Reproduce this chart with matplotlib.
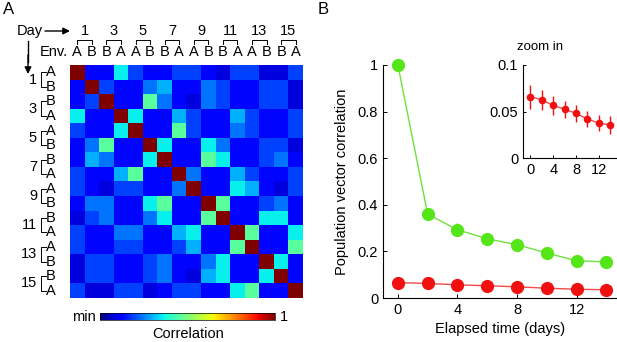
import numpy as np
import matplotlib.pyplot as plt
from matplotlib import cm, colors

plt.rcParams['font.family'] = ['Liberation Sans', 'DejaVu Sans']

W, H = 617, 342

# ---- panel A data ----
day_labels = [1, 3, 5, 7, 9, 11, 13, 15]
env_labels = ['A', 'B', 'B', 'A', 'A', 'B', 'B', 'A',
              'A', 'B', 'B', 'A', 'A', 'B', 'B', 'A']

# correlation levels (jet scale, min .. 1)
level = {'d': 0.085, 'b': 0.13, 'm': 0.19, 'l': 0.24,
         's': 0.30, 'c': 0.36, 'g': 0.46, 'R': 1.0}
corr_rows = [
    "R b b c m b b m m b d m m d d m",
    "b R m b b l s b b l m b b m m d",
    "b m R b b g l b d l m b b m m d",
    "c b b R c b b s m b b s m b b m",
    "m b b c R b b g m b b l m b b m",
    "b l g b b R c b b c l b b m m d",
    "b s l b b c R b b g c b b m l b",
    "m b b s g b b R l b b s m b b m",
    "m b d m m b b l R b b c s b d m",
    "b l l b b c g b b R g b b m l b",
    "d m l b b l c b b g R b b c c b",
    "m b b l l b b s c b b R g b b c",
    "m b b m m b b m s b b g R b b g",
    "d m m b b m l b b l c b b R c b",
    "d m m b b m l b d s c b b c R b",
    "m d d m m d b m m b b c g b b R",
]

# ---- panel B data ----
elapsed = [0, 2, 4, 6, 8, 10, 12, 14]
same_env = [1.0, 0.36, 0.293, 0.254, 0.229, 0.193, 0.160, 0.155]
same_err = [0.0, 0.015, 0.027, 0.02, 0.015, 0.01, 0.008, 0.02]
diff_env = [0.066, 0.0625, 0.0565, 0.0525, 0.048, 0.042, 0.0375, 0.0355]
diff_err = [0.013, 0.011, 0.010, 0.009, 0.009, 0.009, 0.009, 0.010]

green, green_line = '#55e619', '#70e040'
red, red_line = '#f01010', '#f04a4a'


def fx(px):
    return px / W


def fy(py):
    return 1 - py / H


fig = plt.figure(figsize=(W / 100, H / 100), dpi=100)

# ---------------- panel A ----------------
mat = np.array([[level[c] for c in r.split()] for r in corr_rows])
axA = fig.add_axes([fx(70), fy(298), 233 / W, 233 / H])
axA.imshow(mat, cmap='jet', vmin=0, vmax=1, interpolation='nearest', aspect='auto')
axA.set_xticks([])
axA.set_yticks([])
for s in axA.spines.values():
    s.set_visible(False)

cell = 233 / 16
def dx(px):
    return (px - 70) / cell - 0.5
def dy(py):
    return (py - 65) / cell - 0.5

fs = 10.5
for i, e in enumerate(env_labels):
    axA.text(i, dy(52), e, ha='center', va='center', fontsize=fs, clip_on=False)
    axA.text(dx(51), i, e, ha='center', va='center', fontsize=fs, clip_on=False)

for k, d in enumerate(day_labels):
    a, b = 2 * k, 2 * k + 1
    # top bracket
    axA.plot([a, a, b, b], [dy(44), dy(39.5), dy(39.5), dy(44)], color='k', lw=0.7, clip_on=False)
    axA.text((a + b) / 2, dy(31), str(d), ha='center', va='center', fontsize=fs, clip_on=False)
    # left bracket
    axA.plot([dx(46), dx(41), dx(41), dx(46)], [a, a, b, b], color='k', lw=0.7, clip_on=False)
    axA.text(dx(37), (a + b) / 2, str(d), ha='right', va='center', fontsize=fs, clip_on=False)

axA.set_xlim(-0.5, 15.5)
axA.set_ylim(15.5, -0.5)

fig.text(fx(17), fy(31), 'Day', ha='left', va='center', fontsize=fs)
fig.text(fx(40), fy(52), 'Env.', ha='left', va='center', fontsize=fs)
fig.add_artist(plt.Line2D([fx(28), fx(28)], [fy(41), fy(62)], color='k', lw=1))
axA.annotate('', xy=(fx(70), fy(31)), xytext=(fx(45), fy(31)), xycoords='figure fraction',
             arrowprops=dict(arrowstyle='-|>', color='k', lw=1, mutation_scale=10,
                             shrinkA=0, shrinkB=0))
axA.annotate('', xy=(fx(28), fy(74)), xytext=(fx(28), fy(55)), xycoords='figure fraction',
             arrowprops=dict(arrowstyle='-|>', color='k', lw=1, mutation_scale=10,
                             shrinkA=0, shrinkB=0))

# colorbar
cax = fig.add_axes([fx(100), fy(320), 175 / W, 7 / H])
cb = fig.colorbar(cm.ScalarMappable(norm=colors.Normalize(0, 1), cmap='jet'),
                  cax=cax, orientation='horizontal')
cb.set_ticks([])
cb.outline.set_linewidth(0.5)
fig.text(fx(96), fy(317), 'min', ha='right', va='center', fontsize=fs)
fig.text(fx(280), fy(317), '1', ha='left', va='center', fontsize=fs)
fig.text(fx(188), fy(334), 'Correlation', ha='center', va='center', fontsize=fs)

fig.text(fx(3), fy(9), 'A', ha='left', va='center', fontsize=12)
fig.text(fx(318), fy(9), 'B', ha='left', va='center', fontsize=12)

# ---------------- panel B ----------------
axB = fig.add_axes([fx(383), fy(298), (W - 383) / W, 233 / H])
for yv, ye, lc, mc in [(same_env, same_err, green_line, green),
                       (diff_env, diff_err, red_line, red)]:
    ln, caps, bars = axB.errorbar(elapsed, yv, yerr=ye, color=lc, ecolor=mc, lw=1,
                                  marker='o', ms=8.5, mfc=mc, mec=mc, elinewidth=1,
                                  capsize=0, zorder=3)
    ln.set_clip_on(False)
axB.set_xlim(-1, 14.72)
axB.set_ylim(0, 1)
axB.set_xticks([0, 4, 8, 12])
axB.set_yticks([0, 0.2, 0.4, 0.6, 0.8, 1])
axB.set_yticklabels(['0', '0.2', '0.4', '0.6', '0.8', '1'])
axB.spines['top'].set_visible(False)
axB.spines['right'].set_visible(False)
axB.tick_params(direction='in', length=3, labelsize=fs, width=0.7)
axB.set_xlabel('Elapsed time (days)', fontsize=fs, labelpad=4)
axB.set_ylabel('Population vector correlation', fontsize=fs, labelpad=6)

# inset
axI = fig.add_axes([fx(523), fy(158), (W - 523) / W, 93 / H])
axI.errorbar(elapsed, diff_env, yerr=diff_err, color=red_line, ecolor=red, lw=1,
             marker='o', ms=4.5, mfc=red, mec=red, elinewidth=1, capsize=0)
axI.set_xlim(-1.3, 15.2)
axI.set_ylim(0, 0.1)
axI.set_xticks([0, 4, 8, 12])
axI.set_yticks([0, 0.05, 0.1])
axI.set_yticklabels(['0', '0.05', '0.1'])
axI.spines['top'].set_visible(False)
axI.spines['right'].set_visible(False)
axI.tick_params(direction='in', length=2, labelsize=fs, width=0.7)
fig.text(fx(540), fy(47), 'zoom in', ha='center', va='center', fontsize=9.5)

fig.savefig('out.png', dpi=100)
